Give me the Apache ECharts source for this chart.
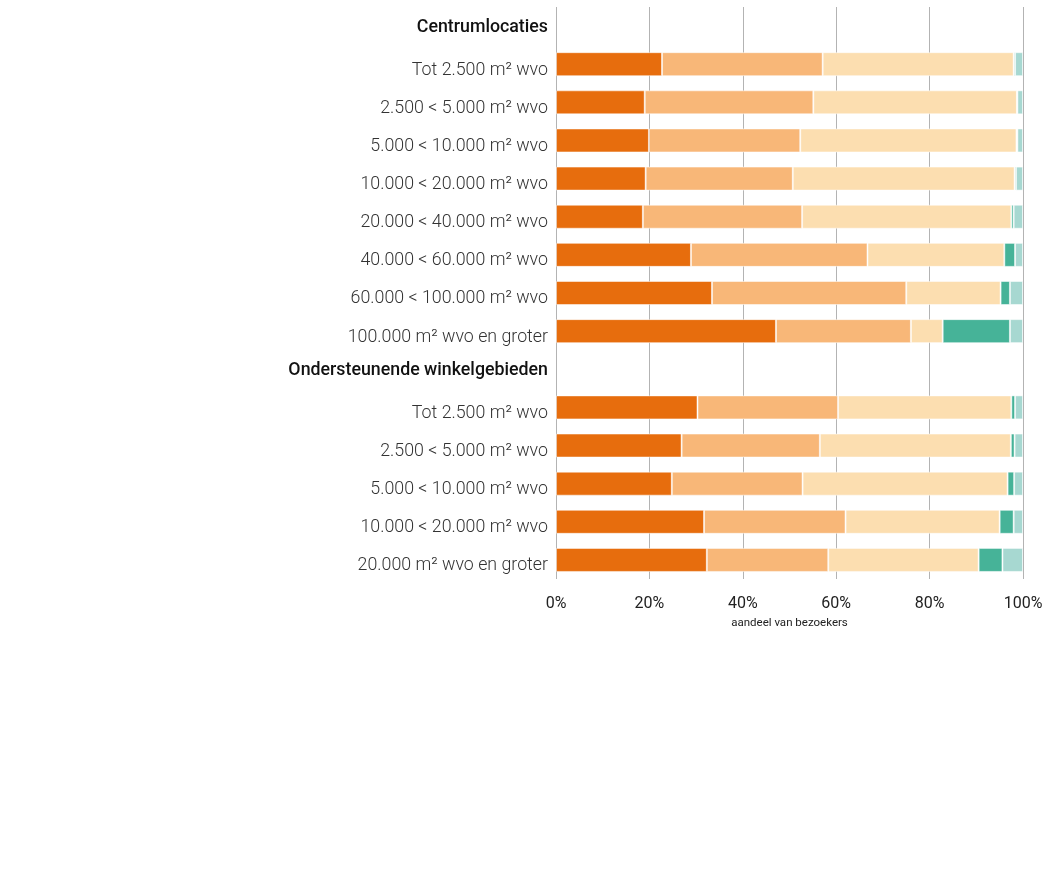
<!DOCTYPE html>
<html>
<head>
<meta charset="utf-8">
<script src="https://cdn.jsdelivr.net/npm/echarts@6/dist/echarts.min.js"></script>
<style>
html,body{margin:0;padding:0;background:#fff;}
#chart{width:1053px;height:882px;}
</style>
</head>
<body>
<div id="chart"></div>
<script>
const categories = [
  "Centrumlocaties",
  "Tot 2.500 m² wvo",
  "2.500 < 5.000 m² wvo",
  "5.000 < 10.000 m² wvo",
  "10.000 < 20.000 m² wvo",
  "20.000 < 40.000 m² wvo",
  "40.000 < 60.000 m² wvo",
  "60.000 < 100.000 m² wvo",
  "100.000 m² wvo en groter",
  "Ondersteunende winkelgebieden",
  "Tot 2.500 m² wvo ",
  "2.500 < 5.000 m² wvo ",
  "5.000 < 10.000 m² wvo ",
  "10.000 < 20.000 m² wvo ",
  "20.000 m² wvo en groter"
];
const headers = ["Centrumlocaties", "Ondersteunende winkelgebieden"];
const tickLabels = ["0%", "20%", "40%", "60%", "80%", "100%"];

const series1 = [null, 22.7, 19.0, 19.9, 19.2, 18.6, 28.9, 33.4, 47.1, null, 30.3, 26.9, 24.8, 31.7, 32.3];
const series2 = [null, 34.4, 36.1, 32.4, 31.5, 34.1, 37.8, 41.6, 28.9, null, 30.1, 29.6, 28.0, 30.3, 26.0];
const series3 = [null, 40.9, 43.6, 46.3, 47.5, 44.8, 29.3, 20.2, 6.8, null, 37.1, 40.9, 43.9, 33.0, 32.2];
const series4 = [null, 0.3, 0.1, 0.2, 0.3, 0.5, 2.3, 2.0, 14.4, null, 0.8, 0.8, 1.4, 3.0, 5.1];
const series5 = [null, 1.7, 1.2, 1.2, 1.5, 2.0, 1.7, 2.8, 2.8, null, 1.7, 1.8, 1.9, 2.0, 4.4];

const colors = ["#e76d0d", "#f8b778", "#fcdeb0", "#46b398", "#a7d8d1"];
const seriesNames = ["s1", "s2", "s3", "s4", "s5"];
const allSeries = [series1, series2, series3, series4, series5];

const chart = echarts.init(document.getElementById('chart'), null, {renderer: 'canvas'});
chart.setOption({
  animation: false,
  grid: {left: 556, right: 30, top: 7, bottom: 303, containLabel: false},
  xAxis: {
    type: 'value',
    min: 0, max: 100, interval: 20,
    axisLine: {show: false},
    axisTick: {show: false},
    splitLine: {show: true, lineStyle: {color: '#b3b3b3', width: 1}},
    axisLabel: {
      formatter: function (v) { return tickLabels[Math.round(v / 20)]; },
      fontFamily: 'Roboto', fontSize: 16, color: '#222', margin: 17
    },
    name: 'aandeel van bezoekers',
    nameLocation: 'middle',
    nameGap: 38,
    nameTextStyle: {fontFamily: 'Roboto', fontSize: 11.5, color: '#222'}
  },
  yAxis: {
    type: 'category',
    data: categories,
    inverse: true,
    axisLine: {show: false},
    axisTick: {show: false},
    axisLabel: {
      margin: 8,
      formatter: function (v) {
        return headers.indexOf(v) >= 0 ? '{h|' + v + '}' : '{n|' + v.trim() + '}';
      },
      rich: {
        h: {fontFamily: 'Roboto', fontWeight: 500, fontSize: 17.8, color: '#111', padding: [2, 0, 0, 0]},
        n: {fontFamily: 'Roboto', fontWeight: 300, fontSize: 17.8, color: '#333', padding: [12, 0, 0, 0]}
      }
    }
  },
  series: allSeries.map(function (d, i) {
    return {
      name: seriesNames[i],
      type: 'bar',
      stack: 'total',
      data: d,
      barWidth: 24,
      itemStyle: {color: colors[i], borderColor: 'rgba(255,255,255,0.5)', borderWidth: 1}
    };
  })
});
</script>
</body>
</html>
